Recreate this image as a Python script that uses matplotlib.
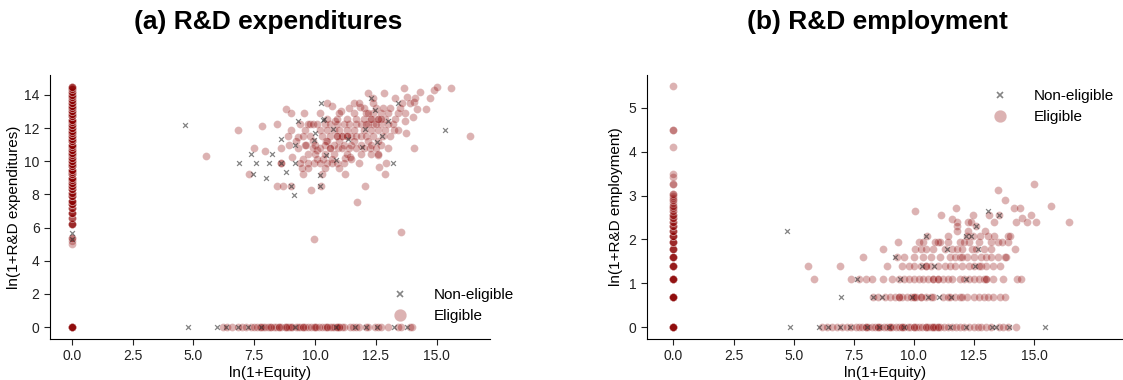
import numpy as np
import matplotlib
matplotlib.use("Agg")
import matplotlib.pyplot as plt
from matplotlib.lines import Line2D

plt.rcParams['font.family'] = ['Liberation Sans', 'DejaVu Sans']

# ---------------- Panel (a): R&D expenditures ----------------
# x = 0 column (eligible): y values and overlap counts
a_zero_y = [0.0, 5.0, 5.2, 5.35, 6.2, 6.6, 6.9, 7.2, 7.4, 7.6, 7.9, 8.1, 8.3, 8.5, 8.7, 8.85,
            9.0, 9.2, 9.35, 9.5, 9.7, 9.85, 10.0, 10.2, 10.35, 10.5, 10.7, 10.85, 11.0, 11.2,
            11.35, 11.5, 11.7, 11.85, 12.0, 12.2, 12.35, 12.5, 12.7, 12.85, 13.0, 13.2, 13.35,
            13.5, 13.7, 13.85, 14.0, 14.2, 14.35, 14.5]
a_zero_n = [8, 1, 1, 2, 5, 3, 5, 4, 5, 5, 5, 4, 5, 5, 5, 4,
            5, 5, 4, 5, 5, 4, 5, 5, 4, 5, 5, 4, 5, 5,
            4, 5, 5, 4, 5, 5, 4, 5, 5, 4, 5, 5, 4,
            5, 4, 4, 4, 4, 4, 4]

# y = 0 row (eligible, positive equity)
a_row0_x = [6.2, 6.4, 6.6, 6.85, 7.0, 7.15, 7.35, 7.5, 7.6, 7.75, 7.85, 7.95, 8.05, 8.15, 8.3,
            8.4, 8.5, 8.6, 8.75, 8.85, 8.95, 9.05, 9.2, 9.3, 9.4, 9.5, 9.6, 9.7, 9.85, 9.95,
            10.05, 10.15, 10.3, 10.4, 10.5, 10.6, 10.7, 10.8, 10.9, 11.0, 11.1, 11.2, 11.45,
            11.55, 11.7, 11.8, 12.1, 12.2, 12.45, 12.6, 12.7, 13.0, 13.4, 13.55, 13.9, 14.0,
            7.8, 8.2, 8.5, 9.0, 9.5, 10.0, 10.5, 11.0, 10.9, 8.8]

# cloud (eligible, positive equity and expenditures)
a_cloud_x = [5.5, 6.85, 7.5, 7.3, 7.83, 7.94, 8.44, 8.59, 8.44, 8.7, 8.6, 8.6, 8.81, 9.03, 8.92,
             9.03, 9.06, 9.3, 9.53, 9.52, 9.46, 9.79, 9.65, 9.83, 9.95, 9.94, 10.08, 10.23, 10.3,
             10.34, 10.47, 10.7, 10.72, 10.81, 10.95, 11.09, 11.22, 11.25, 11.44, 11.62, 11.74,
             11.84, 12.07, 12.18, 12.25, 12.31, 12.59, 12.63, 12.86, 12.89, 12.93, 13.27, 13.54,
             13.65, 13.7, 13.75, 14.09, 14.09, 13.8, 14.2, 14.33, 14.57, 14.74, 14.9, 15.01,
             15.6, 16.36, 14.02,
             9.4, 9.7, 9.9, 10.1, 10.4, 10.6, 10.9, 11.2, 11.4, 11.7, 11.9, 12.2, 12.4, 12.7, 13.0, 13.2,
             9.0, 9.6, 10.2, 10.5, 10.8, 11.0, 11.3, 11.6, 12.0, 12.3, 12.6, 12.9, 13.4,
             8.9, 9.5, 9.8, 10.3, 10.6, 10.9, 11.1, 11.3, 11.5, 11.7, 11.9, 12.1, 12.4, 12.8, 13.1,
             9.2, 9.9, 10.5, 11.0, 11.6, 12.2, 12.6,
             9.6, 10.0, 10.4, 10.8, 11.2, 11.5, 11.9, 12.3, 12.7,
             9.3, 9.9, 10.2, 10.6, 11.1, 11.4, 11.7, 12.0, 12.5, 13.0,
             9.7, 10.0, 10.4, 10.8, 11.3, 11.9, 12.6,
             9.5, 10.1, 10.7, 11.5,
             9.4, 9.7, 10.2, 10.5, 10.9, 11.2, 11.8,
             9.7, 10.4, 11.0,
             10.5, 10.9, 11.3, 11.7, 12.0, 12.3, 12.6, 12.9, 13.3,
             10.2, 11.0, 11.6, 12.1, 12.4, 12.7, 13.0, 13.4, 13.7,
             11.4, 12.0, 12.5, 12.8, 13.1, 13.5,
             10.5, 11.8, 12.4, 13.6, 13.9,
             12.4, 13.3, 14.1,
             12.3, 12.5, 12.7, 11.1, 11.3, 10.9, 12.1, 12.6, 10.6, 12.2]
a_cloud_y = [10.32, 11.91, 10.8, 9.24, 12.1, 10.6, 12.23, 10.8, 8.51, 8.51, 9.9, 9.9, 13.13, 12.89, 11.0,
             8.51, 10.28, 11.44, 12.89, 9.24, 9.62, 12.23, 11.0, 8.29, 9.9, 5.3, 10.68, 8.51, 9.24,
             10.14, 11.22, 13.33, 9.9, 12.43, 10.8, 13.01, 10.22, 9.24, 10.28, 13.53, 7.57,
             13.29, 8.51, 14.14, 10.8, 10.44, 10.38, 9.64, 14.14, 9.24, 9.9, 11.91, 5.72,
             14.42, 12.45, 11.69, 10.8, 13.59, 13.9, 13.13, 14.2, 13.13, 13.8, 14.3, 14.5,
             14.42, 11.53, 12.69,
             12.23, 12.23, 12.23, 12.23, 12.23, 12.23, 12.23, 12.23, 12.23, 12.23, 12.23, 12.23, 12.23, 12.23, 12.23, 12.23,
             11.91, 11.91, 11.91, 11.91, 11.91, 11.91, 11.91, 11.91, 11.91, 11.91, 11.91, 11.91, 11.91,
             11.5, 11.5, 11.5, 11.5, 11.5, 11.5, 11.5, 11.5, 11.5, 11.5, 11.5, 11.5, 11.5, 11.5, 11.5,
             11.2, 11.2, 11.2, 11.2, 11.2, 11.2, 11.2,
             11.0, 11.0, 11.0, 11.0, 11.0, 11.0, 11.0, 11.0, 11.0,
             10.8, 10.8, 10.8, 10.8, 10.8, 10.8, 10.8, 10.8, 10.8, 10.8,
             10.44, 10.44, 10.44, 10.44, 10.44, 10.44, 10.44,
             10.14, 10.14, 10.14, 10.14,
             9.9, 9.9, 9.9, 9.9, 9.9, 9.9, 9.9,
             9.62, 9.62, 9.62,
             12.55, 12.55, 12.55, 12.55, 12.55, 12.55, 12.55, 12.55, 12.55,
             12.89, 12.89, 12.89, 12.89, 12.89, 12.89, 12.89, 12.89, 12.89,
             13.2, 13.2, 13.2, 13.2, 13.2, 13.2,
             13.5, 13.5, 13.5, 13.5, 13.5,
             13.8, 13.8, 13.8,
             12.55, 12.23, 12.55, 11.5, 11.5, 11.5, 12.23, 12.55, 10.8, 12.89]

# non-eligible firms, panel (a)
a_non_x = [4.65, 6.89, 7.35, 7.57, 7.46, 7.99, 8.1, 8.24, 8.6, 8.81, 8.6, 9.03, 9.12, 9.16, 9.16,
           9.29, 10.0, 9.95, 10.19, 10.19, 10.25, 10.32, 10.39, 10.47, 10.88, 10.76, 11.36,
           11.95, 12.04, 12.29, 12.45, 12.55, 12.74, 13.0, 13.19, 13.4, 15.33,
           0.0, 0.0,
           4.79, 5.99, 6.34, 6.83, 7.24, 7.79, 9.18, 10.88, 11.63, 12.08, 12.56, 13.27, 13.79]
a_non_y = [12.19, 9.9, 10.44, 9.9, 9.24, 9.0, 9.9, 10.44, 11.33, 9.36, 9.9, 8.51, 7.99, 9.92, 11.0,
           12.43, 11.69, 11.29, 9.18, 8.51, 13.49, 12.49, 12.57, 10.38, 10.1, 11.93, 11.37,
           10.84, 11.93, 13.8, 13.09, 11.16, 11.53, 12.45, 9.9, 13.49, 11.89,
           5.7, 5.3,
           0, 0, 0, 0, 0, 0, 0, 0, 0, 0, 0, 0, 0]

# ---------------- Panel (b): R&D employment ----------------
b_zero_y = [0.0, 0.69, 1.10, 1.39, 1.61, 1.79, 1.95, 2.08, 2.20, 2.30, 2.40, 2.48, 2.56, 2.64,
            2.71, 2.77, 2.83, 2.89, 2.94, 3.00, 3.04, 3.26, 3.43, 3.50, 4.11, 4.50, 5.49]
b_zero_n = [8, 8, 7, 6, 6, 5, 5, 5, 4, 4, 3, 3, 3, 2,
            2, 2, 1, 2, 1, 1, 2, 2, 1, 1, 1, 2, 1]

b_rows_x = [6.2, 6.4, 6.6, 6.8, 7.0, 7.2, 7.4, 7.6, 7.7, 7.85, 8.0, 8.1, 8.25, 8.4, 8.5, 8.6,
            8.75, 8.9, 9.0, 9.1, 9.25, 9.4, 9.5, 9.6, 9.75, 9.85, 10.0, 10.1, 10.2, 10.35,
            10.5, 10.6, 10.7, 10.8, 10.9, 11.0, 11.1, 11.25, 11.4, 11.6, 11.75, 11.9, 12.1,
            12.3, 12.5, 12.65, 12.8, 13.0, 13.2, 13.55, 13.7, 13.9, 14.25,
            8.0, 8.5, 9.0, 9.5, 10.0, 10.5, 11.0, 10.8,
            8.3, 8.5, 8.8, 9.0, 9.2, 9.4, 9.5, 9.7, 9.9, 10.0, 10.1, 10.3, 10.5, 10.7,
            10.8, 11.2, 11.4, 11.5, 11.7, 11.9, 12.2, 12.5, 12.7, 12.9, 13.1, 13.3, 13.6, 13.8,
            9.4, 10.0, 10.3, 12.0,
            7.37, 7.7, 8.0, 8.25, 8.7, 9.1, 9.4, 9.6, 9.8, 10.0, 10.2, 10.4, 10.6, 10.8, 11.0,
            11.2, 11.4, 11.6, 11.9, 12.1, 12.3, 12.5, 12.7, 12.9, 13.0, 13.3, 13.7, 14.3, 14.45,
            5.85, 10.8, 11.0, 13.0,
            8.9, 9.5, 9.8, 10.0, 10.3, 10.5, 10.7, 11.0, 11.3, 11.5, 11.7, 12.0, 12.3, 12.5,
            12.8, 13.0, 13.3, 13.6, 5.58, 6.91, 10.5, 12.7,
            9.3, 9.6, 10.0, 10.4, 10.7, 11.1, 11.5, 11.7, 11.9, 12.2, 12.5, 12.8, 13.0, 13.2,
            13.5, 13.8, 13.85, 7.89, 12.0,
            8.7, 10.04, 10.3, 10.81, 10.5, 11.3, 11.6, 11.8, 12.0, 12.4, 12.6, 12.9, 13.2, 14.19,
            9.34, 10.2, 10.4, 11.0, 11.4, 11.9, 12.3, 12.7, 13.2, 13.5, 13.9, 11.1, 10.9, 12.1, 13.67,
            10.55, 11.4, 12.2, 12.45, 12.75, 13.1, 13.35, 13.9, 14.0]
b_rows_y = [0] * 53 + [0] * 8 + [0.69] * 28 + [0.69] * 4 + [1.10] * 29 + [1.10] * 4 \
           + [1.39] * 22 + [1.61] * 19 + [1.79] * 14 + [1.95] * 15 + [2.08] * 9

b_upper_x = [10.06, 11.12, 11.6, 11.76, 11.8, 11.78, 11.78, 12.24, 12.38, 12.47, 12.27, 12.96,
             13.12, 13.35, 13.5, 13.8, 14.17, 14.42, 14.25, 14.48, 14.69, 14.86, 15.01, 15.1,
             15.72, 16.47, 12.58, 13.53]
b_upper_y = [2.64, 2.56, 2.47, 2.71, 2.40, 2.30, 2.20, 2.40, 2.40, 2.56, 2.20, 2.20,
             2.56, 2.40, 3.13, 2.89, 2.71, 2.71, 2.40, 2.48, 2.40, 2.56, 3.26, 2.40,
             2.77, 2.40, 2.30, 2.56]

b_non_x = [4.72, 4.84, 6.96, 6.07, 6.42, 6.94, 7.34, 7.64, 8.3, 8.68, 8.05, 8.57, 8.98, 9.2,
           9.42, 9.59, 9.93, 10.34, 10.5, 10.6, 10.85, 11.04, 11.36, 11.56, 11.49, 12.17,
           12.17, 12.38, 12.58, 12.55, 12.65, 13.08, 13.53, 13.26, 13.4, 13.94, 15.45, 12.17]
b_non_y = [2.20, 0, 0.69, 0, 0, 0, 0, 1.10, 0.69, 0.69, 0, 0, 0, 1.61,
           1.10, 0, 0.69, 1.39, 2.08, 0.69, 1.39, 0.69, 1.79, 0.69, 0, 1.10,
           2.08, 2.08, 2.30, 1.39, 1.79, 2.64, 2.56, 0, 0, 0, 0, 0]

ELIG = '#8b0000'
NON = '#333333'
ELIG_ALPHA = 0.3
NON_ALPHA = 0.6

fig = plt.figure(figsize=(11.23, 3.8), dpi=100)
axA = fig.add_axes([50 / 1123, 1 - 339 / 380, 440 / 1123, 264 / 380])
axB = fig.add_axes([647 / 1123, 1 - 339 / 380, 476 / 1123, 264 / 380])


def elig(ax, x, y):
    ax.scatter(x, y, s=32, marker='o', color=ELIG, alpha=ELIG_ALPHA,
               edgecolors='white', linewidths=0.4, zorder=2)


def non(ax, x, y):
    ax.scatter(x, y, s=12, marker='x', color=NON, alpha=NON_ALPHA,
               linewidths=0.9, zorder=3)


# panel a
elig(axA, np.zeros(int(np.sum(a_zero_n))), np.repeat(a_zero_y, a_zero_n))
elig(axA, a_row0_x, np.zeros(len(a_row0_x)))
elig(axA, a_cloud_x, a_cloud_y)
non(axA, a_non_x, a_non_y)

# panel b
elig(axB, np.zeros(int(np.sum(b_zero_n))), np.repeat(b_zero_y, b_zero_n))
elig(axB, b_rows_x, b_rows_y)
elig(axB, b_upper_x, b_upper_y)
non(axB, b_non_x, b_non_y)

axA.set_xlim(-0.9, 17.2)
axA.set_ylim(-0.72, 15.2)
axA.set_yticks([0, 2, 4, 6, 8, 10, 12, 14])
axB.set_xlim(-1.1, 18.7)
axB.set_ylim(-0.27, 5.75)
axB.set_yticks([0, 1, 2, 3, 4, 5])

xticks = [0.0, 2.5, 5.0, 7.5, 10.0, 12.5, 15.0]
xticklabels = ['0.0', '2.5', '5.0', '7.5', '10.0', '12.5', '15.0']
for ax in (axA, axB):
    ax.set_xticks(xticks)
    ax.set_xticklabels(xticklabels)
    for s in ('top', 'right'):
        ax.spines[s].set_visible(False)
    ax.tick_params(labelsize=10, length=4, width=0.8, colors='#222222')
    ax.set_xlabel('ln(1+Equity)', fontsize=11, labelpad=2)

axA.set_ylabel('ln(1+R&D expenditures)', fontsize=11, labelpad=2)
axB.set_ylabel('ln(1+R&D employment)', fontsize=11, labelpad=4)

handles = [Line2D([], [], marker='x', linestyle='none', color=NON, alpha=NON_ALPHA,
                  markersize=5, markeredgewidth=1.2),
           Line2D([], [], marker='o', linestyle='none', color=ELIG, alpha=ELIG_ALPHA,
                  markersize=9, markeredgecolor='white', markeredgewidth=0.4)]
labels = ['Non-eligible', 'Eligible']
axA.legend(handles, labels, loc='lower right', bbox_to_anchor=(1.075, 0.025), frameon=False,
           fontsize=11, handletextpad=1.2, labelspacing=0.45, borderaxespad=0.2)
axB.legend(handles, labels, loc='upper right', bbox_to_anchor=(1.0, 0.98), frameon=False,
           fontsize=11, handletextpad=1.2, labelspacing=0.45, borderaxespad=0.2)

fig.text(268 / 1123, 1 - 22 / 380, '(a) R&D expenditures', ha='center', va='center',
         fontsize=19, fontweight='bold')
fig.text(877 / 1123, 1 - 22 / 380, '(b) R&D employment', ha='center', va='center',
         fontsize=19, fontweight='bold')

fig.savefig('out.png', dpi=100)
